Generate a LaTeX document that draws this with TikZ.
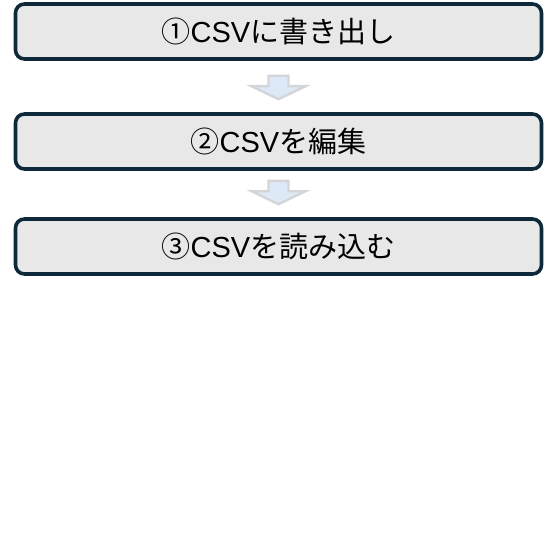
\documentclass[tikz,border=0pt]{standalone}
\usepackage{fontspec}
\setmainfont{Liberation Sans}
\newfontfamily\jp{Noto Sans CJK JP}
\usetikzlibrary{
  calc,
  positioning
}
\definecolor{boxline}{RGB}{14,42,58}
\definecolor{boxfill}{RGB}{232,232,232}
\definecolor{arrowline}{RGB}{212,213,216}
\definecolor{arrowfill}{RGB}{221,233,246}
\tikzset{
  stepbox/.style={
    draw=boxline,
    fill=boxfill,
    line width=3.6pt,
    rounded corners=9pt,
    minimum width=526pt,
    minimum height=55pt,
    inner sep=0pt,
    font=\fontsize{29}{33}\selectfont
  },
  blockarrow/.style={
    draw=arrowline,
    fill=arrowfill,
    line width=2.4pt,
    line join=miter
  }
}

\begin{document}
\begin{tikzpicture}[x=1pt,y=1pt]
  \useasboundingbox (0,0) rectangle (555,-556);

  \node[stepbox] (export) at (278.5,-31.5) {{\jp ①}CSV{\jp に書き出し}};
  \node[stepbox] (edit) at (278.5,-141.5) {{\jp ②}CSV{\jp を編集}};
  \node[stepbox] (import) at (278.5,-246.5) {{\jp ③}CSV{\jp を読み込む}};

  % down arrows between the steps
  \foreach \a/\b/\gap in {export/edit/15,edit/import/10} {
    \coordinate (top) at ($(\a.south)+(0,-\gap)$);
    \coordinate (tip) at ($(\b.north)+(0,13)$);
    \draw[blockarrow] ($(top)+(-10,0)$) -- ($(top)+(10,0)$)
      -- ($(tip)+(10,13)$) -- ($(tip)+(27,13)$) -- (tip)
      -- ($(tip)+(-27,13)$) -- ($(tip)+(-10,13)$) -- cycle;
  }
\end{tikzpicture}
\end{document}
